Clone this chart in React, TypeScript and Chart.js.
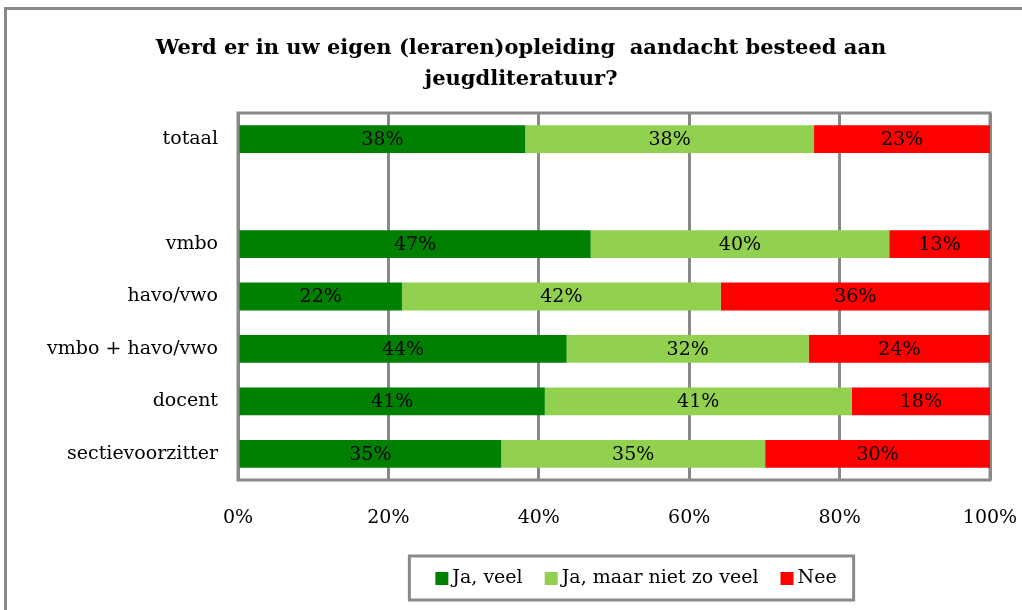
import React, { useEffect, useRef } from "react";
import Chart from "chart.js/auto";

const titleLines = [
  "Werd er in uw eigen (leraren)opleiding  aandacht besteed aan",
  "jeugdliteratuur?",
];
const categories = [
  "totaal",
  "",
  "vmbo",
  "havo/vwo",
  "vmbo + havo/vwo",
  "docent",
  "sectievoorzitter",
];
const seriesNames = ["Ja, veel", "Ja, maar niet zo veel", "Nee"];
const seriesColors = ["#008000", "#92D050", "#FF0000"];
const jaVeel = [38.2, null, 46.9, 21.8, 43.7, 40.8, 35.0];
const jaMaar = [38.4, null, 39.7, 42.4, 32.2, 40.8, 35.1];
const nee = [23.4, null, 13.4, 35.8, 24.1, 18.4, 29.9];
const xTicks = [0, 20, 40, 60, 80, 100];

const FONT = "'DejaVu Serif', serif";
const GRAY = "#898989";

const framePlugin = {
  id: "frame",
  afterLayout(chart: any) {
    if (chart.titleBlock) chart.titleBlock.left = 52;
  },
  beforeDraw(chart: any) {
    const ctx = chart.ctx;
    ctx.save();
    ctx.strokeStyle = GRAY;
    ctx.lineWidth = 3;
    ctx.beginPath();
    ctx.moveTo(5.5, 640);
    ctx.lineTo(5.5, 8.5);
    ctx.lineTo(1040, 8.5);
    ctx.stroke();
    ctx.restore();
  },
  beforeDatasetsDraw(chart: any) {
    const { ctx, chartArea } = chart;
    ctx.save();
    ctx.strokeStyle = GRAY;
    ctx.lineWidth = 3;
    ctx.strokeRect(
      chartArea.left,
      chartArea.top,
      chartArea.right - chartArea.left,
      chartArea.bottom - chartArea.top
    );
    ctx.restore();
  },
};

const labelPlugin = {
  id: "barLabels",
  afterDatasetsDraw(chart: any) {
    const ctx = chart.ctx;
    ctx.save();
    ctx.font = "19px " + FONT;
    ctx.fillStyle = "#000";
    ctx.textAlign = "center";
    ctx.textBaseline = "middle";
    chart.data.datasets.forEach((ds: any, i: number) => {
      const meta = chart.getDatasetMeta(i);
      meta.data.forEach((bar: any, j: number) => {
        const v = ds.data[j];
        if (v == null) return;
        const cx = (bar.x + bar.base) / 2;
        ctx.fillText(Math.round(v) + "%", cx, bar.y + 1);
      });
    });
    ctx.restore();
  },
};

const legendPlugin = {
  id: "boxLegend",
  afterDraw(chart: any) {
    const ctx = chart.ctx;
    ctx.save();
    ctx.font = "19px " + FONT;
    ctx.textBaseline = "middle";
    ctx.textAlign = "left";
    const box = 13;
    const gapText = 4;
    const gapItem = 22;
    const items = chart.data.datasets.map((ds: any) => ({
      label: ds.label,
      color: ds.backgroundColor,
      w: ctx.measureText(ds.label).width,
    }));
    let total = 0;
    items.forEach((it: any, i: number) => {
      total += box + gapText + it.w + (i < items.length - 1 ? gapItem : 0);
    });
    const center = 636;
    let x = center - total / 2;
    const left = x - 26;
    const right = x + total + 17;
    const top = 556;
    const bottom = 600;
    ctx.strokeStyle = GRAY;
    ctx.lineWidth = 3;
    ctx.strokeRect(left, top, right - left, bottom - top);
    const cy = 578.5;
    items.forEach((it: any) => {
      ctx.fillStyle = it.color;
      ctx.fillRect(x, cy - box / 2, box, box);
      ctx.fillStyle = "#000";
      ctx.fillText(it.label, x + box + gapText, cy);
      x += box + gapText + it.w + gapItem;
    });
    ctx.restore();
  },
};

export default function App() {
  const ref = useRef<HTMLCanvasElement | null>(null);
  useEffect(() => {
    if (!ref.current) return;
    const values = [jaVeel, jaMaar, nee];
    const chart = new Chart(ref.current, {
      type: "bar",
      data: {
        labels: categories,
        datasets: seriesNames.map((name, i) => ({
          label: name,
          data: values[i],
          backgroundColor: seriesColors[i],
          borderWidth: 0,
          barPercentage: 0.53,
          categoryPercentage: 1,
        })),
      },
      options: {
        indexAxis: "y",
        animation: false,
        responsive: false,
        events: [],
        layout: { padding: { left: 20, right: 32, top: 0, bottom: 70 } },
        plugins: {
          legend: { display: false },
          tooltip: { enabled: false },
          title: {
            display: true,
            text: titleLines,
            color: "#000",
            font: { family: FONT, size: 21, weight: "bold", lineHeight: "31px" },
            padding: { top: 33, bottom: 18 },
          },
        },
        scales: {
          x: {
            stacked: true,
            min: 0,
            max: 100,
            afterBuildTicks(scale: any) {
              scale.ticks = xTicks.map((v) => ({ value: v }));
            },
            afterFit(scale: any) {
              scale.height = 60;
              scale.paddingLeft = 0;
              scale.paddingRight = 0;
            },
            grid: { color: GRAY, lineWidth: 3, drawTicks: false },
            border: { display: false },
            ticks: {
              color: "#000",
              padding: 27,
              font: { family: FONT, size: 19 },
              callback: (v: any) => v + "%",
            },
          },
          y: {
            stacked: true,
            afterFit(scale: any) {
              scale.width = 218;
            },
            grid: { display: false, drawTicks: false },
            border: { display: false },
            ticks: {
              color: "#000",
              padding: 20,
              font: { family: FONT, size: 19 },
              autoSkip: false,
            },
          },
        },
      },
      plugins: [framePlugin, labelPlugin, legendPlugin],
    });
    return () => chart.destroy();
  }, []);
  return (
    <div style={{ position: "absolute", left: 0, top: 0, width: 1022, height: 610, background: "#fff" }}>
      <canvas ref={ref} width={1022} height={610} />
    </div>
  );
}
